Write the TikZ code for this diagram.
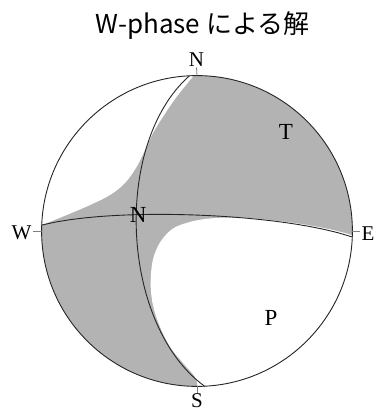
\documentclass[tikz,border=0pt]{standalone}
\usepackage{fontspec}
\setmainfont{Liberation Serif}
\newfontfamily\jpfont{Noto Sans CJK JP}
\definecolor{ballgray}{RGB}{179,179,179}
\begin{document}
\begin{tikzpicture}[x=1pt,y=-1pt,
  outline/.style={draw=black!85,line width=0.9pt},
  tick/.style={draw=black!50,line width=0.8pt},
  outlbl/.style={font=\fontsize{21}{21}\selectfont,inner sep=0pt},
  inlbl/.style={font=\fontsize{23}{23}\selectfont,inner sep=0pt},
  titlelbl/.style={font=\jpfont\fontsize{26}{26}\selectfont,inner sep=0pt}]
\useasboundingbox (0,0) rectangle (377,412);
\coordinate (c) at (197,231);
\node[titlelbl] (title) at (202.5,26) {W-phase による解};
% shaded pattern
\begin{scope}
\clip (c) circle[radius=155.4pt];
\fill[ballgray] (c) circle[radius=160pt];
\fill[white] plot[smooth,tension=0.6] coordinates {(193,76.5) (176.7,96.7) (163,116.7) (153,133) (145,150) (136.7,166.7) (125,183) (110,195) (90,205) (66.7,215) (43.3,224.5)} -- (0,224.5) -- (0,0) -- (193,0) -- cycle;
\fill[white] plot[smooth,tension=0.6] coordinates {(351.9,235) (330,229.3) (296.7,223.3) (260,219) (240,217.6) (220,217.8) (203,219.3) (188,222.5) (173,228.5) (161.7,240) (155,253) (151.7,266.7) (150.7,286.7) (153.3,306.7) (160,326.7) (170,346.7) (183.3,363.3) (195,377) (197.5,387)} -- (197.5,420) -- (420,420) -- (420,235) -- cycle;
\end{scope}
% nodal planes (equal-area projection)
\draw[outline] plot[domain=0:180,samples=121,variable=\t]
  ({197+155.4*sqrt(2)*sin((90-atan(tan(58)*sin(\t)))/2)*sin(177.2+\t)},
   {231-155.4*sqrt(2)*sin((90-atan(tan(58)*sin(\t)))/2)*cos(177.2+\t)});
\draw[outline] plot[domain=0:180,samples=121,variable=\t]
  ({197+155.4*sqrt(2)*sin((90-atan(tan(81.7)*sin(\t)))/2)*sin(272.2+\t)},
   {231-155.4*sqrt(2)*sin((90-atan(tan(81.7)*sin(\t)))/2)*cos(272.2+\t)});
\draw[outline] (c) circle[radius=155.4pt];
% ticks
\coordinate (tN) at (197,75.6);
\coordinate (tS) at (197,386.4);
\coordinate (tW) at (41.6,231);
\coordinate (tE) at (352.4,231);
\node[outlbl] (lN) at (196.5,60) {N};
\node[outlbl] (lS) at (197,400.5) {S};
\node[outlbl] (lW) at (21.5,233) {W};
\node[outlbl] (lE) at (368,234) {E};
\draw[tick] (tN) -- (196.5,67.5);
\draw[tick] (tS) -- (197,393);
\draw[tick] (tW) -- (33,231);
\draw[tick] (tE) -- (360,231);
% axes labels
\node[inlbl] (lT) at (286,132) {T};
\node[inlbl] (lP) at (271,318) {P};
\node[inlbl] (lNull) at (138.3,214.5) {N};
\end{tikzpicture}
\end{document}
